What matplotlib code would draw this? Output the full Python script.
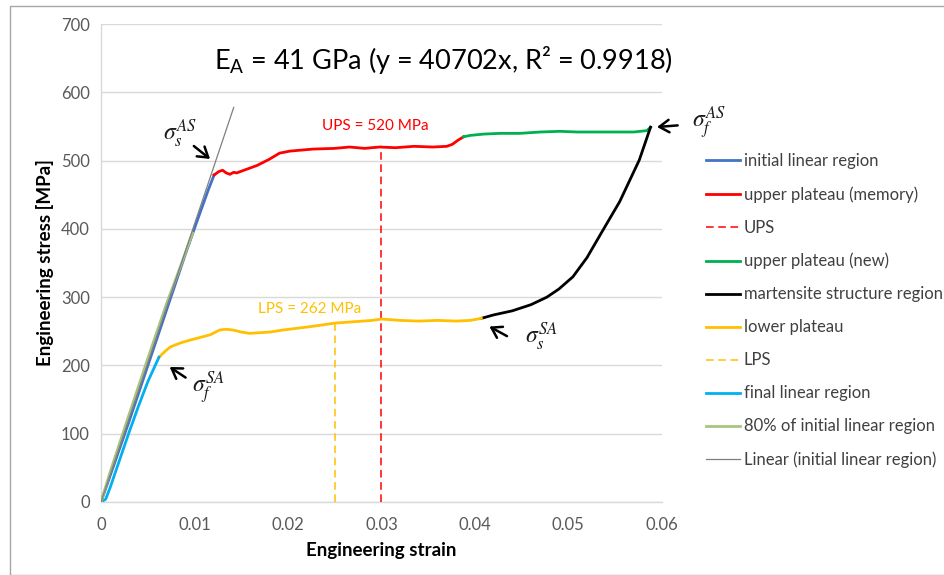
import matplotlib
matplotlib.use("Agg")
import matplotlib.pyplot as plt
from matplotlib.patches import Rectangle

plt.rcParams['font.family'] = ['Lato', 'DejaVu Sans']
plt.rcParams['mathtext.fontset'] = 'custom'
plt.rcParams['mathtext.rm'] = 'Lato'
plt.rcParams['mathtext.it'] = 'Lato:italic'

# ---- data (strain [-], stress [MPa]) ----
initial_strain = [0.0, 0.0030, 0.0060, 0.0090, 0.0105, 0.0115, 0.0121]
initial_stress = [0.0, 118, 240, 362, 420, 458, 479]

upper_mem_strain = [0.0121, 0.0126, 0.0130, 0.0134, 0.0138, 0.0142, 0.0145, 0.0155, 0.0167,
                    0.0180, 0.0191, 0.0202, 0.0227, 0.0250, 0.0266, 0.0282, 0.0298, 0.0315,
                    0.0335, 0.0355, 0.0370, 0.0376, 0.0382, 0.0388]
upper_mem_stress = [479, 484, 486, 482, 480, 483, 482, 487, 493, 502, 511, 514, 517, 518,
                    520, 518, 520, 519, 521, 520, 521, 524, 530, 535]

ups_strain = [0.030, 0.030]

upper_new_strain = [0.0388, 0.0395, 0.0410, 0.0427, 0.0448, 0.0470, 0.0491, 0.0510,
                    0.0530, 0.0550, 0.0570, 0.0584, 0.0588]
upper_new_stress = [535, 537, 539, 540, 540, 542, 543, 542, 542, 542, 542, 544, 549]

mart_strain = [0.0407, 0.0420, 0.0440, 0.0460, 0.0477, 0.0490, 0.0505, 0.0520, 0.0537,
               0.0555, 0.0576, 0.0588]
mart_stress = [269, 274, 280, 289, 300, 312, 330, 358, 398, 440, 501, 549]

lower_strain = [0.0062, 0.0068, 0.0074, 0.0085, 0.0095, 0.0106, 0.0117, 0.0127, 0.0134,
                0.0141, 0.0150, 0.0159, 0.0170, 0.0181, 0.0195, 0.0213, 0.0230, 0.0250,
                0.0270, 0.0290, 0.0300, 0.0320, 0.0340, 0.0360, 0.0380, 0.0395, 0.0407]
lower_stress = [212, 220, 227, 233, 237, 241, 245, 252, 253, 252, 249, 247, 248, 249, 252,
                255, 258, 262, 264, 266, 268, 266, 265, 266, 265, 266, 269]

lps_strain = [0.025, 0.025]

final_strain = [0.0, 0.0005, 0.0010, 0.0020, 0.0030, 0.0040, 0.0050, 0.0062]
final_stress = [0, 4, 22, 62, 102, 140, 176, 212]

eighty_strain = [0.0, 0.0010, 0.0030, 0.0050, 0.0070, 0.0085, 0.0098]
eighty_stress = [0, 45, 128, 210, 290, 345, 394]

# linear trend of the initial region: y = 40702 x
trend_slope = 40702
trend_strain = [0.0, 0.0142]
trend_stress = [trend_slope * e for e in trend_strain]

ups_value = 520
lps_value = 262

x_ticks = [0, 0.01, 0.02, 0.03, 0.04, 0.05, 0.06]
x_tick_labels = ['0', '0.01', '0.02', '0.03', '0.04', '0.05', '0.06']
y_ticks = [0, 100, 200, 300, 400, 500, 600, 700]

# ---- figure ----
fig = plt.figure(figsize=(9.44, 5.75), dpi=100)
ax = fig.add_axes([0.107, 0.127, 0.594, 0.831])

blue = '#4472C4'
red = '#FF0000'
green = '#00B050'
yellow = '#FFC000'
cyan = '#00B0F0'
sage = '#A9C47F'
gray = '#7F7F7F'

lw = 2.0
ax.plot(initial_strain, initial_stress, color=blue, lw=lw, label='initial linear region', zorder=3)
ax.plot(upper_mem_strain, upper_mem_stress, color=red, lw=lw, label='upper plateau (memory)', zorder=3)
ax.plot(ups_strain, [0, ups_value], color=red, lw=1.1, ls=(0, (5, 3)), label='UPS', zorder=3)
ax.plot(upper_new_strain, upper_new_stress, color=green, lw=lw, label='upper plateau (new)', zorder=3)
ax.plot(mart_strain, mart_stress, color='black', lw=lw, label='martensite structure region', zorder=3)
ax.plot(lower_strain, lower_stress, color=yellow, lw=lw, label='lower plateau', zorder=3)
ax.plot(lps_strain, [0, lps_value], color=yellow, lw=1.1, ls=(0, (5, 3)), label='LPS', zorder=3)
ax.plot(final_strain, final_stress, color=cyan, lw=lw, label='final linear region', zorder=3)
ax.plot(eighty_strain, eighty_stress, color=sage, lw=lw, label='80% of initial linear region', zorder=3)
ax.plot(trend_strain, trend_stress, color=gray, lw=0.9, label='Linear (initial linear region)', zorder=4)

ax.set_xlim(0, 0.06)
ax.set_ylim(0, 700)
ax.set_xticks(x_ticks)
ax.set_xticklabels(x_tick_labels)
ax.set_yticks(y_ticks)
ax.tick_params(axis='both', labelsize=12, colors='#595959', length=0, pad=8)
ax.tick_params(axis='x', pad=11)
ax.grid(axis='y', color='#D9D9D9', lw=1.0)
ax.set_axisbelow(True)
for s in ['top', 'right']:
    ax.spines[s].set_visible(False)
for s in ['left', 'bottom']:
    ax.spines[s].set_color('#D9D9D9')
    ax.spines[s].set_linewidth(1.0)

ax.set_xlabel('Engineering strain', fontsize=13.5, fontweight='bold', color='black', labelpad=6)
ax.set_ylabel('Engineering stress [MPa]', fontsize=13.5, fontweight='bold', color='black', labelpad=5)

# equation of the linear fit
ax.text(0.0366, 647, r'E$_{\mathrm{A}}$ = 41 GPa (y = 40702x, R² = 0.9918)',
        fontsize=19.5, ha='center', va='center', color='black')

# plateau stress labels
ax.text(0.0294, 551, f'UPS = {ups_value} MPa', fontsize=11, color=red, ha='center', va='center')
ax.text(0.0223, 283, f'LPS = {lps_value} MPa', fontsize=11, color=yellow, ha='center', va='center')

# transformation stress markers
arrow = dict(arrowstyle='->,head_length=0.7,head_width=0.45', color='black', lw=1.8)
sig_kw = dict(fontsize=17, color='#1a1a1a', math_fontfamily='stix')
ax.annotate('', xy=(0.0119, 500), xytext=(0.0097, 524), arrowprops=arrow)
ax.text(0.0084, 540, r'$\sigma_s^{AS}$', ha='center', va='center', **sig_kw)

ax.annotate('', xy=(0.0071, 200), xytext=(0.0093, 180), arrowprops=arrow)
ax.text(0.0115, 168, r'$\sigma_f^{SA}$', ha='center', va='center', **sig_kw)

ax.annotate('', xy=(0.0413, 259), xytext=(0.0437, 241), arrowprops=arrow)
ax.text(0.0471, 243, r'$\sigma_s^{SA}$', ha='center', va='center', **sig_kw)

ax.annotate('', xy=(0.0592, 549), xytext=(0.0620, 552), arrowprops=arrow, annotation_clip=False)
ax.text(0.0650, 557, r'$\sigma_f^{AS}$', ha='center', va='center', **sig_kw)

leg = ax.legend(loc='upper left', bbox_to_anchor=(0.741, 0.745), bbox_transform=fig.transFigure,
                frameon=False, fontsize=12, handlelength=2.0, handletextpad=0.25,
                labelspacing=1.02, borderaxespad=0)
for t in leg.get_texts():
    t.set_color('#404040')

# outer chart border
fig.patches.append(Rectangle((10 / 944, 0.0), 1.0, 1 - 6 / 575, transform=fig.transFigure,
                             fill=False, edgecolor='#A6A6A6', lw=1.0))

fig.savefig('out.png', dpi=100)
